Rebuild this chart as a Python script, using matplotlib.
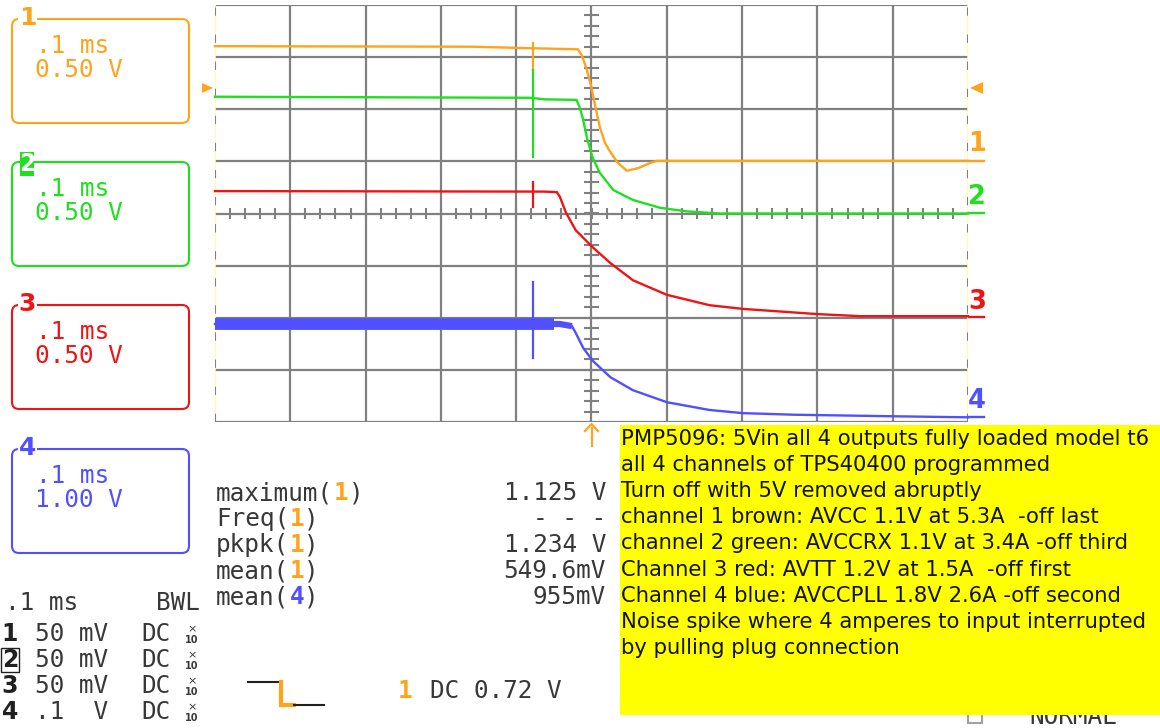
import matplotlib
matplotlib.use("Agg")
import matplotlib.pyplot as plt
import numpy as np
from matplotlib.patches import FancyBboxPatch, Rectangle, Polygon

# ---------------------------------------------------------------- data
# horizontal: 0.1 ms/div, 10 divisions, trigger at the centre
T_RANGE = (-0.5, 0.5)
DIV_RANGE = (-4, 4)

# trace positions in screen divisions versus time in ms
ch1_t = [-0.5, -0.16, -0.078, -0.018, -0.013, -0.006, 0.0, 0.006, 0.011,
         0.018, 0.025, 0.035, 0.047, 0.062, 0.078, 0.087, 0.5]
ch1_v = [3.21, 3.20, 3.17, 3.15, 3.04, 2.75, 2.41, 1.99, 1.66,
         1.35, 1.18, 0.97, 0.82, 0.87, 0.97, 1.01, 1.01]

ch2_t = [-0.5, -0.082, -0.062, -0.020, -0.016, -0.012, -0.006, 0.001, 0.011,
         0.029, 0.055, 0.091, 0.127, 0.171, 0.5]
ch2_v = [2.24, 2.22, 2.19, 2.18, 2.05, 1.85, 1.45, 1.09, 0.78,
         0.45, 0.26, 0.11, 0.04, 0.0, 0.0]

ch3_t = [-0.5, -0.062, -0.046, -0.042, -0.034, -0.021, 0.001, 0.025, 0.055,
         0.100, 0.157, 0.201, 0.300, 0.357, 0.5]
ch3_v = [0.43, 0.42, 0.41, 0.32, 0.02, -0.32, -0.64, -0.95, -1.28,
         -1.56, -1.76, -1.83, -1.93, -1.97, -1.97]

ch4_t = [-0.5, -0.05, -0.042, -0.026, -0.021, -0.011, 0.002, 0.025, 0.055,
         0.100, 0.157, 0.201, 0.268, 0.400, 0.5]
ch4_v = [-2.12, -2.12, -2.12, -2.16, -2.29, -2.58, -2.83, -3.14, -3.39,
         -3.62, -3.77, -3.83, -3.86, -3.89, -3.91]
ch4_noisy_until = -0.05          # wide noise band before the input drops

# plug-pull noise spike: time and (low, high) extent on each channel
spike_t = -0.078
spike_lo = [2.75, 1.08, 0.12, -2.77]
spike_hi = [3.27, 2.75, 0.60, -1.31]

channel_volts = ["0.50 V", "0.50 V", "0.50 V", "1.00 V"]
timebase = ".1 ms"

meas_names = ["maximum", "Freq", "pkpk", "mean", "mean"]
meas_src = ["1", "1", "1", "1", "4"]
meas_vals = ["1.125 V", "- - -", "1.234 V", "549.6mV", "955mV"]

probe_ch = ["1", "2", "3", "4"]
probe_scale = ["50 mV", "50 mV", "50 mV", ".1  V"]

trigger_text = "DC 0.72 V"

note_lines = [
    "PMP5096: 5Vin all 4 outputs fully loaded model t6",
    "all 4 channels of TPS40400 programmed",
    "Turn off with 5V removed abruptly",
    "channel 1 brown: AVCC 1.1V at 5.3A  -off last",
    "channel 2 green: AVCCRX 1.1V at 3.4A -off third",
    "Channel 3 red: AVTT 1.2V at 1.5A  -off first",
    "Channel 4 blue: AVCCPLL 1.8V 2.6A -off second",
    "Noise spike where 4 amperes to input interrupted",
    "by pulling plug connection",
]

# ---------------------------------------------------------------- style
COLORS = ["#FFA31A", "#1FE01F", "#EE1414", "#5050FF"]
GRID = "#808080"
EDGE = "#FFFF90"
TEXT = "#383838"
MONO = "DejaVu Sans Mono"
FS = 17.6                     # scope text size (pt)

W, H = 1160, 728
fig = plt.figure(figsize=(W / 100, H / 100), dpi=100)
fig.patch.set_facecolor("white")

# overlay in pixel units for the instrument decorations
bg = fig.add_axes([0, 0, 1, 1])
bg.set_xlim(0, W)
bg.set_ylim(H, 0)
bg.axis("off")

# graticule area
GX0, GX1, GY0, GY1 = 215, 968, 5, 422
ax = fig.add_axes([GX0 / W, 1 - GY1 / H, (GX1 - GX0) / W, (GY1 - GY0) / H])
ax.set_xlim(*T_RANGE)
ax.set_ylim(*DIV_RANGE)
ax.axis("off")
ax.patch.set_alpha(0)

# grid lines
for t in np.arange(-0.4, 0.41, 0.1):
    ax.axvline(t, color=GRID, lw=1.6, zorder=1)
for d in range(-3, 4):
    ax.axhline(d, color=GRID, lw=1.6, zorder=1)
ax.axhline(DIV_RANGE[1], color=GRID, lw=1.6, zorder=1)
ax.axhline(DIV_RANGE[0], color=GRID, lw=1.6, zorder=1)
# left / right borders: pale yellow with grey dashes
for t in T_RANGE:
    ax.axvline(t, color=EDGE, lw=1.2, zorder=1)
    ax.axvline(t, color=GRID, lw=1.5, ls=(0, (4, 9)), zorder=1)

# centre axis minor ticks
for d in np.arange(-3.8, 3.81, 0.2):
    ax.plot([-0.0105, 0.0105], [d, d], color=GRID, lw=1.5, zorder=1,
            solid_capstyle="butt")
for t in np.arange(-0.48, 0.481, 0.02):
    ax.plot([t, t], [-0.11, 0.11], color=GRID, lw=1.5, zorder=1,
            solid_capstyle="butt")

# traces
traces = [(ch1_t, ch1_v), (ch2_t, ch2_v), (ch3_t, ch3_v), (ch4_t, ch4_v)]
for (t, v), c in zip(traces, COLORS):
    ax.plot(t, v, color=c, lw=1.7, zorder=3, solid_joinstyle="round",
            clip_on=False)
t4 = np.array(ch4_t)
v4 = np.array(ch4_v)
m = t4 <= ch4_noisy_until
ax.plot(t4[m], v4[m], color=COLORS[3], lw=8.5, zorder=3,
        solid_capstyle="butt")
m2 = (t4 >= ch4_noisy_until) & (t4 <= -0.026)
ax.plot(t4[m2], v4[m2], color=COLORS[3], lw=4.5, zorder=3,
        solid_capstyle="butt")

for lo, hi, c in zip(spike_lo, spike_hi, COLORS):
    ax.plot([spike_t, spike_t], [lo, hi], color=c, lw=1.6, zorder=4)

# ---------------------------------------------------------------- markers
org = COLORS[0]
bg.add_patch(Polygon([(202, 83), (213, 88), (202, 93)], closed=True,
                     fc=org, ec="none"))
bg.add_patch(Polygon([(983, 82), (970, 88), (983, 94)], closed=True,
                     fc=org, ec="none"))
bg.plot([591.5, 591.5], [428, 446], color=org, lw=1.6)
bg.plot([585, 591.5, 598], [431, 424, 431], color=org, lw=1.6)

# channel numbers at right edge of the graticule
right_y = [144, 197, 302, 401]
level_y = [161, 213, 316.5, 417]
for n, (yl, yv, c) in enumerate(zip(right_y, level_y, COLORS)):
    bg.text(977, yl, str(n + 1), color=c, fontsize=18.5, fontweight="bold",
            family="DejaVu Sans", ha="center", va="center")
    bg.plot([968, 984], [yv, yv], color=c, lw=1.7)

# ---------------------------------------------------------------- channel boxes
box_top = [19, 162, 305, 449]
BOX_H = 104
for n, (y0, c) in enumerate(zip(box_top, COLORS)):
    bg.add_patch(FancyBboxPatch((12, y0), 177, BOX_H,
                                boxstyle="round,pad=0,rounding_size=7",
                                fc="none", ec=c, lw=1.5))
    bg.text(36, y0 + 27, timebase, color=c, fontsize=FS, family=MONO,
            ha="left", va="center")
    bg.text(35, y0 + 51, channel_volts[n], color=c, fontsize=FS,
            family=MONO, ha="left", va="center")
    if n == 1:
        bg.add_patch(Rectangle((20, y0 - 10), 14, 24, fc=c, ec="none"))
        bg.text(27, y0 + 2, str(n + 1), color="white", fontsize=17,
                fontweight="bold", family="DejaVu Sans", ha="center",
                va="center")
    else:
        bg.text(27.5, y0 - 1, str(n + 1), color=c, fontsize=18,
                fontweight="bold", family="DejaVu Sans", ha="center",
                va="center",
                bbox=dict(fc="white", ec="none", pad=0.5))

# ---------------------------------------------------------------- measurements
PITCH = FS / 0.72 * 0.602
meas_y = [493, 519, 545, 571, 597]
for name, src, val, y in zip(meas_names, meas_src, meas_vals, meas_y):
    bg.text(216, y, name + "(", color=TEXT, fontsize=FS, family=MONO,
            ha="left", va="center")
    xs = 216 + PITCH * (len(name) + 1)
    src_c = COLORS[int(src) - 1]
    bg.text(xs, y, src, color=src_c, fontsize=FS, family=MONO,
            fontweight="bold", ha="left", va="center")
    bg.text(xs + PITCH, y, ")", color=TEXT, fontsize=FS, family=MONO,
            ha="left", va="center")
    bg.text(606, y, val, color=TEXT, fontsize=FS, family=MONO,
            ha="right", va="center")

# ---------------------------------------------------------------- lower-left status
bg.text(5, 603, timebase, color=TEXT, fontsize=FS, family=MONO,
        ha="left", va="center")
bg.text(200, 603, "BWL", color=TEXT, fontsize=FS, family=MONO,
        ha="right", va="center")
row_y = [634, 660, 686, 712]
for ch, sc, y in zip(probe_ch, probe_scale, row_y):
    if ch == "2":
        bg.text(10, y, ch, color="#202020", fontsize=17, fontweight="bold",
                family="DejaVu Sans", ha="center", va="center",
                bbox=dict(fc="none", ec="#202020", lw=1.0, pad=0.3))
    else:
        bg.text(10, y, ch, color="#202020", fontsize=17, fontweight="bold",
                family="DejaVu Sans", ha="center", va="center")
    bg.text(35, y, sc, color=TEXT, fontsize=FS, family=MONO,
            ha="left", va="center")
    bg.text(141, y, "DC", color=TEXT, fontsize=FS, family=MONO,
            ha="left", va="center")
    bg.text(192, y - 5, "×", color=TEXT, fontsize=8, family="DejaVu Sans",
            ha="center", va="center")
    bg.text(192, y + 6, "10", color=TEXT, fontsize=7, fontweight="bold",
            family="DejaVu Sans", ha="center", va="center")

# trigger symbol and level
bg.plot([248, 281], [682, 682], color="#202020", lw=1.5)
bg.plot([281, 281, 294], [682, 705, 705], color=org, lw=3.0,
        solid_joinstyle="miter")
bg.plot([294, 324], [705, 705], color="#202020", lw=1.5)
bg.text(398, 691, "1", color=org, fontsize=FS, family=MONO,
        fontweight="bold", ha="left", va="center")
bg.text(430, 691, trigger_text, color=TEXT, fontsize=FS, family=MONO,
        ha="left", va="center")

# acquisition mode, partly hidden by the note
bg.add_patch(Rectangle((968, 708), 14, 15, fc="none", ec="#A0A0A0", lw=1.5))
bg.text(1029, 717, "NORMAL", color=TEXT, fontsize=FS, family=MONO,
        ha="left", va="center")

# ---------------------------------------------------------------- note
bg.add_patch(Rectangle((620, 425), W - 620, 290, fc="#FFFF00", ec="none",
                       zorder=5))
for i, line in enumerate(note_lines):
    bg.text(621, 439 + 26.1 * i, line, color="#111111", fontsize=15.2,
            family="DejaVu Sans", ha="left", va="center", zorder=6)

fig.savefig("out.png", dpi=100, facecolor="white")
